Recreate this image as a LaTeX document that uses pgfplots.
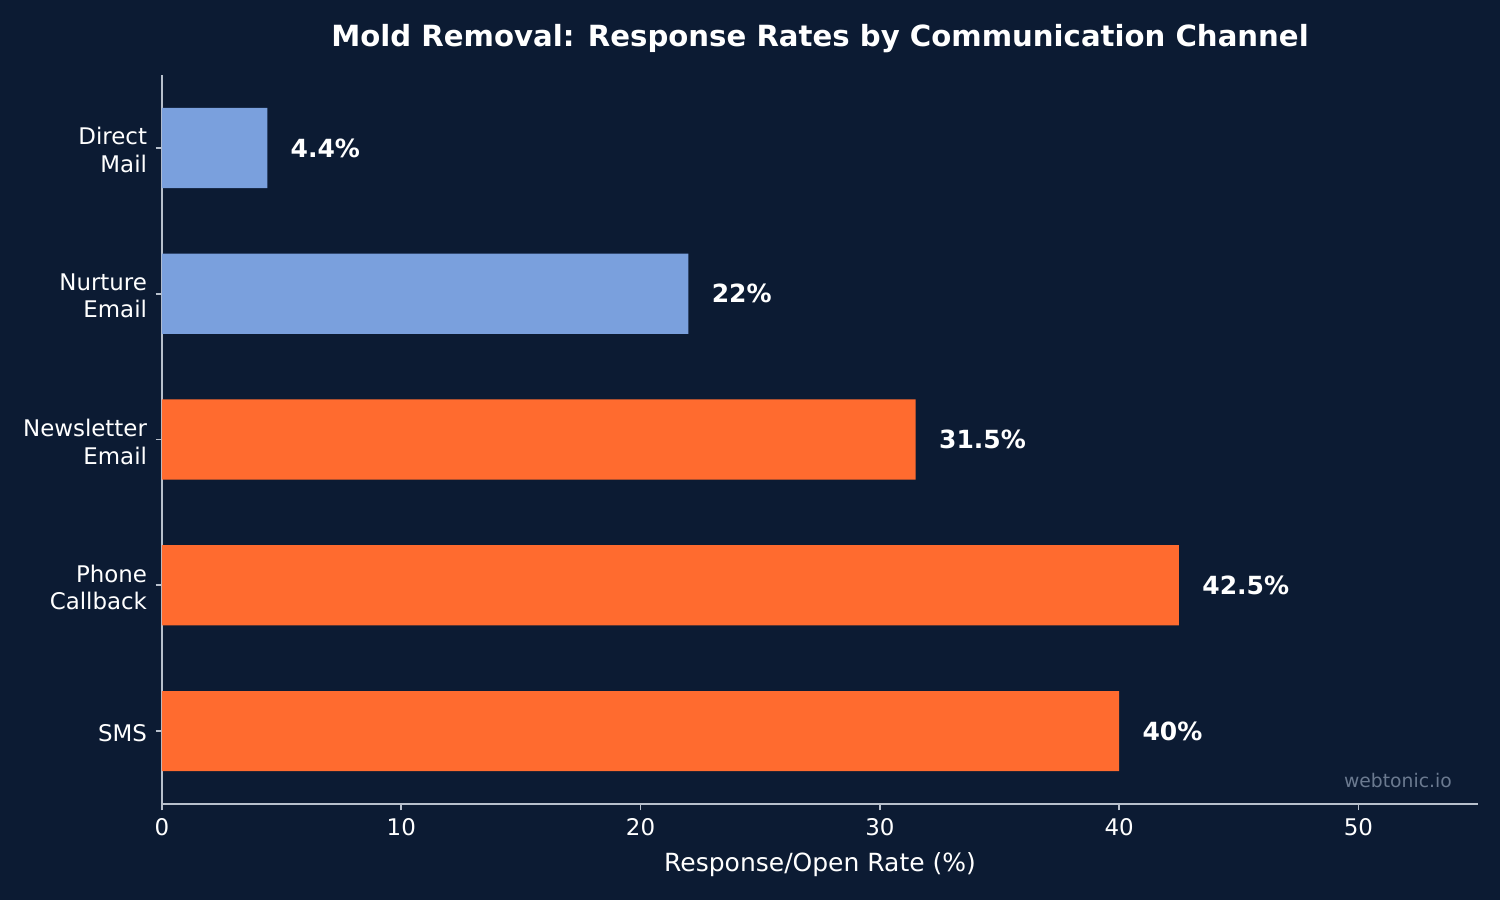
\documentclass[border=0pt]{standalone}
\usepackage{pgfplots}
\pgfplotsset{compat=1.18}
\usepackage{fontspec}
\setmainfont{DejaVu Sans}
\definecolor{bg}{HTML}{0C1B33}
\definecolor{orng}{HTML}{FF6B2F}
\definecolor{blu}{HTML}{7AA0DD}
\definecolor{axc}{HTML}{B8C0CC}
\definecolor{wm}{HTML}{6B7A90}
\begin{document}
\begin{tikzpicture}
\fill[bg] (-77.76pt,-46.08pt) rectangle (642.24pt,385.92pt);
\begin{axis}[
  at={(0,0)}, anchor=south west,
  scale only axis, width=631.7pt, height=349.9pt,
  xbar, bar width=0.55, bar shift=0pt,
  xmin=0, xmax=55, ymin=-0.5, ymax=4.5,
  axis lines*=left,
  axis line style={axc, line width=0.8pt},
  tick style={axc, line width=0.8pt},
  major tick length=3pt,
  tick align=outside,
  xtick={0,10,20,30,40,50},
  ytick={0,1,2,3,4},
  yticklabels={SMS,{Phone\\Callback},{Newsletter\\Email},{Nurture\\Email},{Direct\\Mail}},
  yticklabel style={align=right, font=\fontsize{11}{13.3}\selectfont, text=white, inner sep=0pt, xshift=-4pt, yshift=-1pt},
  xticklabel style={font=\fontsize{11}{13}\selectfont, text=white, yshift=-0.5pt},
  /pgf/number format/assume math mode=true,
  xlabel={Response/Open Rate (\%)},
  xlabel style={font=\fontsize{12}{14}\selectfont, text=white, yshift=-1pt},
  title={\textbf{Mold Removal: Response Rates by Communication Channel}},
  title style={font=\fontsize{14}{16}\selectfont, text=white, yshift=1pt},
  nodes near coords={\pgfmathprintnumber[fixed,precision=1]{\pgfplotspointmeta}\%},
  point meta=x,
  every node near coord/.append style={font=\bfseries\fontsize{12}{14}\selectfont, text=white, anchor=west, xshift=7.7pt},
  clip=false,
]
\addplot[fill=orng, draw=none] coordinates {(40,0) (42.5,1) (31.5,2)};
\addplot[fill=blu, draw=none] coordinates {(22,3) (4.4,4)};
\node[anchor=east, text=wm, font=\fontsize{9}{11}\selectfont] at (rel axis cs:0.9856,0.032) {webtonic.io};
\end{axis}
\pgfresetboundingbox
\useasboundingbox (-77.76pt,-46.08pt) rectangle (642.24pt,385.92pt);
\end{tikzpicture}
\end{document}
